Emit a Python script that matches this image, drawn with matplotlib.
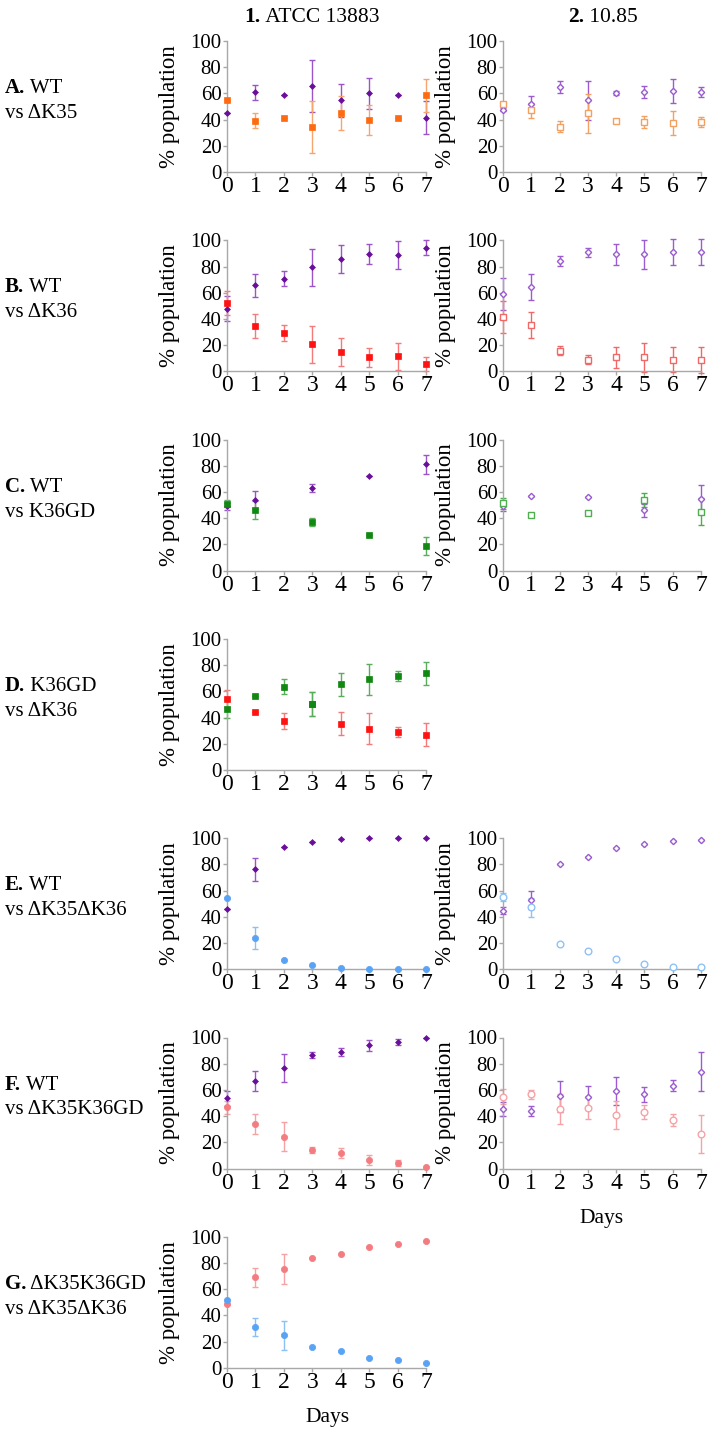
import numpy as np
import matplotlib
matplotlib.use("Agg")
import matplotlib.pyplot as plt

plt.rcParams["font.family"] = ["Liberation Serif", "DejaVu Serif"]

W, H = 710, 1431

days = [0, 1, 2, 3, 4, 5, 6, 7]
days_c = [0, 1, 3, 5, 7]

# A. WT vs dK35
a1_wt = [45.4, 60.7, 58.9, 65.5, 54.8, 60.2, 58.9, 41.4]
a1_wt_err = [0, 6, 0, 20, 12.7, 11.8, 0, 12.5]
a1_k35 = [54.6, 39.3, 41.1, 34.3, 44.9, 39.8, 41.1, 58.6]
a1_k35_err = [0, 6, 0, 20, 12.8, 11.5, 0, 12.7]
a2_wt = [47.7, 52.0, 65.0, 54.6, 60.2, 61.2, 62.0, 61.0]
a2_wt_err = [1.5, 6, 4.5, 15, 1.8, 4.5, 9, 3.8]
a2_k35 = [51.8, 47.2, 34.5, 44.7, 38.8, 38.1, 37.3, 38.1]
a2_k35_err = [1.5, 5.7, 4.3, 14.6, 1.5, 4.7, 9, 3.8]

# B. WT vs dK36
b1_wt = [47.9, 65.5, 70.8, 79.3, 85.6, 89.4, 88.7, 94.5]
b1_wt_err = [9.5, 9, 6, 14, 10.7, 7.7, 10.5, 5.5]
b1_k36 = [52.1, 34.8, 29.5, 20.7, 14.6, 10.6, 11.3, 5.5]
b1_k36_err = [9, 9.3, 6, 14, 10.7, 7.5, 10.6, 5.5]
b2_wt = [58.9, 64.2, 84.4, 90.9, 89.2, 89.2, 91.2, 91.2]
b2_wt_err = [12, 9.8, 3.8, 3.5, 8.3, 11.3, 10, 10]
b2_k36 = [41.3, 35.3, 15.6, 8.8, 10.6, 10.6, 8.8, 8.8]
b2_k36_err = [12, 10, 3.5, 3.5, 8, 11.3, 9.5, 10]

# C. WT vs K36GD
c1_wt = [49.1, 53.9, 63.0, 72.5, 81.1]
c1_wt_err = [2.5, 7, 3, 0, 7]
c1_gd = [51.1, 46.3, 37.3, 27.5, 18.9]
c1_gd_err = [2.5, 7, 3, 0, 7]
c2_wt = [49.2, 57.3, 56.3, 46.2, 55.0]
c2_wt_err = [3.5, 0, 0, 5, 10.5]
c2_gd = [51.3, 42.5, 43.7, 53.8, 45.0]
c2_gd_err = [4, 0, 0, 5.3, 10.5]

# D. K36GD vs dK36
d1_gd = [46.6, 56.7, 63.5, 50.4, 65.3, 69.1, 71.9, 73.7]
d1_gd_err = [6.7, 0, 5.8, 9.2, 8.6, 12, 3.8, 8.7]
d1_k36 = [54.4, 44.0, 37.2, 50.0, 35.4, 31.6, 29.1, 26.8]
d1_k36_err = [6.7, 0, 6, 9.2, 8.5, 12, 3.8, 8.8]

# E. WT vs dK35dK36
e1_wt = [46.0, 76.2, 93.2, 97.0, 99.3, 99.8, 99.9, 99.9]
e1_wt_err = [0, 8.6, 0, 0, 0, 0, 0, 0]
e1_dd = [54.4, 24.0, 7.1, 3.3, 0.8, 0.3, 0.1, 0.1]
e1_dd_err = [0, 8.5, 0, 0, 0, 0, 0, 0]
e2_wt = [44.8, 52.9, 80.5, 85.8, 92.2, 95.7, 97.5, 98.5]
e2_wt_err = [3, 7, 0, 0, 0, 0, 0, 0]
e2_dd = [55.2, 47.1, 19.2, 13.7, 7.6, 3.8, 2.0, 1.3]
e2_dd_err = [2.8, 7, 0, 0, 0, 0, 0, 0]

# F. WT vs dK35K36GD
f1_wt = [53.6, 66.8, 76.5, 87.0, 89.0, 94.1, 96.7, 99.5]
f1_wt_err = [5.7, 7.9, 10.8, 2.3, 3.3, 4.2, 2.5, 0]
f1_gd = [46.9, 33.9, 24.2, 13.8, 11.7, 6.6, 4.1, 1.0]
f1_gd_err = [5, 7.9, 11, 2.3, 3.6, 4, 2.5, 0]
f2_wt = [45.5, 44.0, 55.0, 54.3, 59.3, 56.8, 63.3, 73.9]
f2_wt_err = [5.4, 3.8, 12, 8.3, 10.6, 5.7, 4.4, 14.7]
f2_gd = [54.8, 56.5, 45.2, 46.0, 41.0, 43.2, 37.0, 26.4]
f2_gd_err = [5.7, 3.5, 11.5, 8.3, 10.6, 5.5, 4.4, 14.6]

# G. dK35K36GD vs dK35dK36
g1_gd = [48.9, 69.0, 75.3, 83.9, 87.2, 92.4, 94.5, 97.0]
g1_gd_err = [0, 7, 11.3, 0, 0, 0, 0, 0]
g1_dd = [51.6, 31.2, 24.9, 16.1, 13.1, 7.6, 5.8, 3.3]
g1_dd_err = [0, 7, 11, 0, 0, 0, 0, 0]

row_labels = [("A.", "WT", "vs \u0394K35"),
              ("B.", "WT", "vs \u0394K36"),
              ("C.", "WT", "vs K36GD"),
              ("D.", "K36GD", "vs \u0394K36"),
              ("E.", "WT", "vs \u0394K35\u0394K36"),
              ("F.", "WT", "vs \u0394K35K36GD"),
              ("G.", "\u0394K35K36GD", "vs \u0394K35\u0394K36")]

# colours: (marker, error bar)
purple = ("#6a0f9c", "#9a55c8")
purple_o = ("#9a5cd0", "#9a5cd0")
orange = ("#ff6a10", "#f7a56c")
orange_o = ("#f4a060", "#f4a060")
red = ("#ff1212", "#f57a7a")
red_o = ("#f26868", "#f26868")
green = ("#118811", "#5aad5a")
green_o = ("#4fae4f", "#4fae4f")
blue = ("#58a3f6", "#8cc0f5")
blue_o = ("#8fc2f6", "#8fc2f6")
pink = ("#f47b80", "#f6a2a5")
pink_o = ("#f7a2a6", "#f7a2a6")

fig = plt.figure(figsize=(W / 100, H / 100), dpi=100)
renderer = fig.canvas.get_renderer()


def make_ax(col, row):
    x0 = 227 if col == 0 else 503
    w = 199 if col == 0 else 198
    top = 41 + 199.3 * row
    bot = 172 + 199.3 * row
    ax = fig.add_axes([x0 / W, 1 - bot / H, w / W, (bot - top) / H])
    ax.set_xlim(0, 7)
    ax.set_ylim(0, 100)
    ax.set_xticks(range(8))
    ax.set_yticks(range(0, 101, 20))
    for s in ["top", "right"]:
        ax.spines[s].set_visible(False)
    for s in ["left", "bottom"]:
        ax.spines[s].set_color("#a8a8a8")
        ax.spines[s].set_linewidth(1.0)
    ax.tick_params(axis="both", colors="#a8a8a8", length=3, width=1, labelcolor="black")
    ax.tick_params(axis="x", labelsize=17, pad=0)
    ax.tick_params(axis="y", labelsize=15, pad=1)
    ax.set_ylabel("% population", fontsize=16.5)
    ax.yaxis.set_label_coords(-0.235, 0.5)
    return ax


def series(ax, x, y, err, col, marker, ms, filled):
    ax.errorbar(x, y, yerr=err, fmt="none", ecolor=col[1], elinewidth=1.0,
                capsize=2, capthick=1.0, clip_on=False, zorder=2)
    if filled:
        ax.plot(x, y, linestyle="none", marker=marker, ms=ms, mfc=col[0],
                mec=col[0], mew=0.5, clip_on=False, zorder=3)
    else:
        ax.plot(x, y, linestyle="none", marker=marker, ms=ms, mfc="white",
                mec=col[0], mew=1.0, clip_on=False, zorder=3)


def mixed(x_px, y_px, bold, rest, size, center=False):
    tb = fig.text(0, 0, bold, fontsize=size, weight="bold", va="baseline")
    tr = fig.text(0, 0, " " + rest, fontsize=size, va="baseline")
    wb = tb.get_window_extent(renderer).width
    wr = tr.get_window_extent(renderer).width
    xs = x_px - (wb + wr) / 2 if center else x_px
    tb.set_position((xs / W, 1 - y_px / H))
    tr.set_position(((xs + wb) / W, 1 - y_px / H))


# row A
ax = make_ax(0, 0)
series(ax, days, a1_wt, a1_wt_err, purple, "D", 3.0, True)
series(ax, days, a1_k35, a1_k35_err, orange, "s", 4.5, True)
ax = make_ax(1, 0)
series(ax, days, a2_wt, a2_wt_err, purple_o, "D", 3.2, False)
series(ax, days, a2_k35, a2_k35_err, orange_o, "s", 4.8, False)

# row B
ax = make_ax(0, 1)
series(ax, days, b1_wt, b1_wt_err, purple, "D", 3.0, True)
series(ax, days, b1_k36, b1_k36_err, red, "s", 4.5, True)
ax = make_ax(1, 1)
series(ax, days, b2_wt, b2_wt_err, purple_o, "D", 3.2, False)
series(ax, days, b2_k36, b2_k36_err, red_o, "s", 4.8, False)

# row C
ax = make_ax(0, 2)
series(ax, days_c, c1_wt, c1_wt_err, purple, "D", 3.0, True)
series(ax, days_c, c1_gd, c1_gd_err, green, "s", 4.5, True)
ax = make_ax(1, 2)
series(ax, days_c, c2_wt, c2_wt_err, purple_o, "D", 3.2, False)
series(ax, days_c, c2_gd, c2_gd_err, green_o, "s", 4.8, False)

# row D
ax = make_ax(0, 3)
series(ax, days, d1_k36, d1_k36_err, red, "s", 4.5, True)
series(ax, days, d1_gd, d1_gd_err, green, "s", 4.5, True)

# row E
ax = make_ax(0, 4)
series(ax, days, e1_wt, e1_wt_err, purple, "D", 3.0, True)
series(ax, days, e1_dd, e1_dd_err, blue, "o", 4.5, True)
ax = make_ax(1, 4)
series(ax, days, e2_wt, e2_wt_err, purple_o, "D", 3.2, False)
series(ax, days, e2_dd, e2_dd_err, blue_o, "o", 4.8, False)

# row F
ax = make_ax(0, 5)
series(ax, days, f1_wt, f1_wt_err, purple, "D", 3.0, True)
series(ax, days, f1_gd, f1_gd_err, pink, "o", 4.5, True)
ax = make_ax(1, 5)
series(ax, days, f2_wt, f2_wt_err, purple_o, "D", 3.2, False)
series(ax, days, f2_gd, f2_gd_err, pink_o, "o", 4.8, False)

# row G
ax = make_ax(0, 6)
series(ax, days, g1_gd, g1_gd_err, pink, "o", 4.5, True)
series(ax, days, g1_dd, g1_dd_err, blue, "o", 4.5, True)

# column titles
mixed(312, 22, "1.", "ATCC 13883", 15.5, center=True)
mixed(603, 22, "2.", "10.85", 15.5, center=True)

# row labels
for i, (b, r1, r2) in enumerate(row_labels):
    y0 = 41 + 199.3 * i
    mixed(5, y0 + 52, b, r1, 15)
    fig.text(5 / W, 1 - (y0 + 77) / H, r2, fontsize=15, va="baseline")

# x labels
fig.text(602 / W, 1 - 1223 / H, "Days", fontsize=15.5, ha="center", va="baseline")
fig.text(327 / W, 1 - 1422 / H, "Days", fontsize=15.5, ha="center", va="baseline")

fig.savefig("out.png", dpi=100)
